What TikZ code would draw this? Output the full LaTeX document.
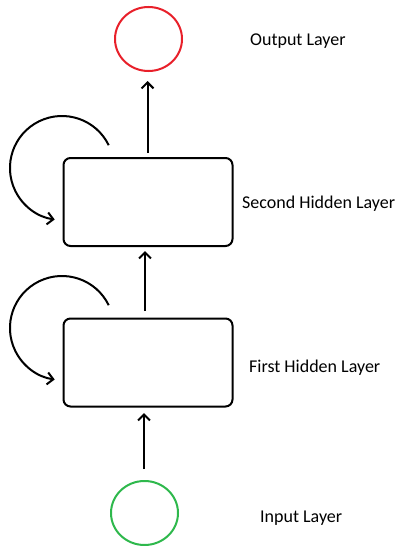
\documentclass[tikz,border=0pt]{standalone}
\usepackage{fontspec}
\setmainfont{Carlito}
\usetikzlibrary{arrows.meta,shapes.geometric}
\definecolor{outred}{RGB}{232,32,42}
\definecolor{ingreen}{RGB}{46,184,76}
\begin{document}
\begin{tikzpicture}[x=1pt,y=-1pt,
  layerbox/.style={draw,line width=2pt,rounded corners=7pt,minimum width=169pt,minimum height=88pt,inner sep=0pt},
  unit/.style={draw,line width=2pt,ellipse,minimum width=67pt,minimum height=64pt,inner sep=0pt},
  conn/.style={line width=2pt,-{Straight Barb[length=6pt,width=12pt,line width=2pt]}},
  lbl/.style={anchor=west,font=\fontsize{18}{20}\selectfont,inner sep=0pt}]
\useasboundingbox (0,0) rectangle (404,546);
\node[unit,draw=outred] (out) at (148.5,39) {};
\node[layerbox] (h2) at (148,202) {};
\node[layerbox] (h1) at (148,362.5) {};
\node[unit,draw=ingreen] (in) at (144.5,513) {};
\coordinate (o2) at (147.5,153);
\coordinate (o1) at (145,311);
\coordinate (oi) at (144,469);
\draw[conn] (oi) -- (144,413);
\draw[conn] (o1) -- (145,251);
\draw[conn] (o2) -- (147.5,81);
\coordinate (l2) at (108.7,145.2);
\coordinate (l1) at (108.7,305.2);
\draw[conn] (l2) arc[start angle=-26,end angle=-262,radius=52];
\draw[conn] (l1) arc[start angle=-26,end angle=-262,radius=52];
\node[lbl] (tout) at (250,41) {Output Layer};
\node[lbl] (th2) at (242,204) {Second Hidden Layer};
\node[lbl] (th1) at (249,368) {First Hidden Layer};
\node[lbl] (tin) at (260,518) {Input Layer};
\end{tikzpicture}
\end{document}
